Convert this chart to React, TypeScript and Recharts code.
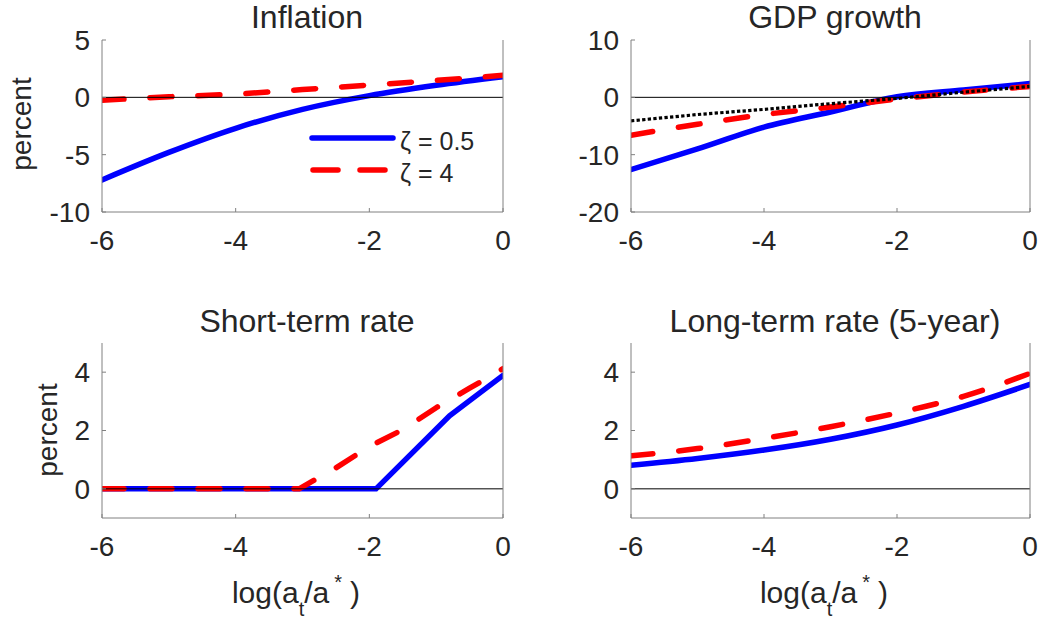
import { LineChart, Line, XAxis, YAxis, ReferenceLine } from 'recharts'

const xTicks = [-6, -4, -2, 0]

// Inflation
const inflationX = [-6, -5, -4, -3, -2, -1, 0]
const inflationLow = [-7.2, -4.8, -2.7, -1.05, 0.15, 1.05, 1.8]
const inflationHigh = [-0.25, 0.05, 0.28, 0.68, 1.07, 1.48, 1.92]

// GDP growth
const gdpX = [-6, -5, -4, -3, -2, -1, 0]
const gdpLow = [-12.6, -9.0, -5.2, -2.55, 0.1, 1.3, 2.4]
const gdpHigh = [-6.6, -4.7, -3.0, -1.7, -0.3, 0.9, 1.9]
const gdpRef = [-4.1, -3.0, -2.1, -1.1, -0.2, 0.9, 1.9]

// Short-term rate
const shortLowX = [-6, -1.9, -0.8, 0]
const shortLow = [0, 0, 2.5, 3.89]
const shortHighX = [-6, -3.05, -2.5, -2, -1.5, -1, -0.5, 0]
const shortHigh = [0, 0, 0.72, 1.45, 2.03, 2.78, 3.45, 4.12]

// Long-term rate (5-year)
const longX = [-6, -5, -4, -3, -2, -1, 0]
const longLow = [0.81, 1.04, 1.33, 1.7, 2.19, 2.83, 3.58]
const longHigh = [1.13, 1.38, 1.73, 2.13, 2.6, 3.17, 3.96]

const FONT = '"Liberation Sans", Arial, Helvetica, sans-serif'
const BOX = '#808080'
const TXT = '#262626'
const BLUE = '#0000ff'
const RED = '#ff0000'
const LW = 5.5

type Series = {
	xs: number[]
	ys: number[]
	color: string
	width: number
	dash?: string
	cap?: 'round' | 'butt'
	curve: 'monotone' | 'linear'
}

const solid = (xs: number[], ys: number[], curve: 'monotone' | 'linear' = 'monotone'): Series => ({
	xs, ys, color: BLUE, width: LW, curve, cap: 'round',
})
const dashed = (xs: number[], ys: number[], curve: 'monotone' | 'linear' = 'monotone'): Series => ({
	xs, ys, color: RED, width: LW, dash: '22 26', curve, cap: 'round',
})
const dotted = (xs: number[], ys: number[]): Series => ({
	xs, ys, color: '#000', width: 3.2, dash: '3.3 2.3', curve: 'linear', cap: 'butt',
})

function Panel({
	x, y, w, h, pad, yDomain, yTicks, series,
}: {
	x: number
	y: number
	w: number
	h: number
	pad: { l: number; r: number; t: number; b: number }
	yDomain: [number, number]
	yTicks: number[]
	series: Series[]
}) {
	const tick = { fontSize: 28, fill: TXT, fontFamily: FONT }
	return (
		<div style={{ position: 'absolute', left: x, top: y }}>
			<LineChart width={w} height={h} margin={{ top: pad.t, right: 0, bottom: 0, left: 0 }}>
				<XAxis xAxisId="b" type="number" dataKey="x" domain={[-6, 0]} ticks={xTicks} interval={0}
					height={pad.b} tickSize={-4} tickMargin={22} stroke={BOX} tick={tick} allowDataOverflow />
				<XAxis xAxisId="t" orientation="top" type="number" dataKey="x" domain={[-6, 0]} ticks={xTicks}
					height={0} tickSize={-4} tick={false} stroke={BOX} allowDataOverflow />
				<YAxis yAxisId="l" type="number" domain={yDomain} ticks={yTicks} interval={0}
					width={pad.l} tickSize={-4} tickMargin={16} stroke={BOX} tick={tick} allowDataOverflow />
				<YAxis yAxisId="r" orientation="right" type="number" domain={yDomain} ticks={yTicks}
					width={pad.r} tickSize={-4} tick={false} stroke={BOX} allowDataOverflow />
				{series.map((s, i) => (
					<Line key={i} xAxisId="b" yAxisId="l" data={s.xs.map((v, j) => ({ x: v, y: s.ys[j] }))}
						dataKey="y" type={s.curve} stroke={s.color} strokeWidth={s.width}
						strokeDasharray={s.dash} strokeLinecap={s.cap} dot={false} activeDot={false}
						isAnimationActive={false} />
				))}
				<ReferenceLine xAxisId="b" yAxisId="l" y={0} stroke="#000" strokeWidth={1} />
			</LineChart>
		</div>
	)
}

export default function App() {
	const topPadL = { l: 102, r: 17, t: 40, b: 48 }
	const topPadR = { l: 111, r: 16, t: 40, b: 48 }
	const botPadL = { l: 102, r: 17, t: 43, b: 101 }
	const botPadR = { l: 111, r: 16, t: 43, b: 101 }
	const txt = { fontFamily: FONT, fill: TXT }
	return (
		<div style={{ position: 'absolute', left: 0, top: 0, width: 1046, height: 619, background: '#fff' }}>
			<Panel x={0} y={0} w={520} h={260} pad={topPadL} yDomain={[-10, 5]} yTicks={[-10, -5, 0, 5]}
				series={[solid(inflationX, inflationLow), dashed(inflationX, inflationHigh)]} />
			<Panel x={520} y={0} w={526} h={260} pad={topPadR} yDomain={[-20, 10]} yTicks={[-20, -10, 0, 10]}
				series={[solid(gdpX, gdpLow), dashed(gdpX, gdpHigh), dotted(gdpX, gdpRef)]} />
			<Panel x={0} y={300} w={520} h={319} pad={botPadL} yDomain={[-1, 5]} yTicks={[0, 2, 4]}
				series={[solid(shortLowX, shortLow, 'linear'), dashed(shortHighX, shortHigh, 'linear')]} />
			<Panel x={520} y={300} w={526} h={319} pad={botPadR} yDomain={[-1, 5]} yTicks={[0, 2, 4]}
				series={[solid(longX, longLow), dashed(longX, longHigh)]} />

			<svg width={1046} height={619} style={{ position: 'absolute', left: 0, top: 0, pointerEvents: 'none' }}>
				<g {...txt} fontSize={32} textAnchor="middle">
					<text x={307} y={28}>Inflation</text>
					<text x={835} y={28}>GDP growth</text>
					<text x={307} y={332}>Short-term rate</text>
					<text x={835} y={332}>Long-term rate (5-year)</text>
				</g>
				<g {...txt} fontSize={28} textAnchor="middle">
					<text transform="translate(31,124) rotate(-90)">percent</text>
					<text transform="translate(57,430) rotate(-90)">percent</text>
				</g>
				{[296, 824].map(cx => (
					<text key={cx} x={cx} y={603} textAnchor="middle" fontSize={30} {...txt}>
						log(a<tspan fontSize={20} dy={13}>t</tspan>
						<tspan dy={-13} dx={0}>/a</tspan>
						<tspan fontSize={20} dy={-14} dx={5}>*</tspan>
						<tspan dy={14} dx={8}>)</tspan>
					</text>
				))}
				<line x1={312} x2={393} y1={138} y2={138} stroke={BLUE} strokeWidth={LW} strokeLinecap="round" />
				<line x1={313} x2={387} y1={170} y2={170} stroke={RED} strokeWidth={LW} strokeLinecap="round" strokeDasharray="25 22" />
				<g {...txt} fontSize={25}>
					<text x={400} y={150}>ζ = 0.5</text>
					<text x={400} y={182}>ζ = 4</text>
				</g>
			</svg>
		</div>
	)
}
